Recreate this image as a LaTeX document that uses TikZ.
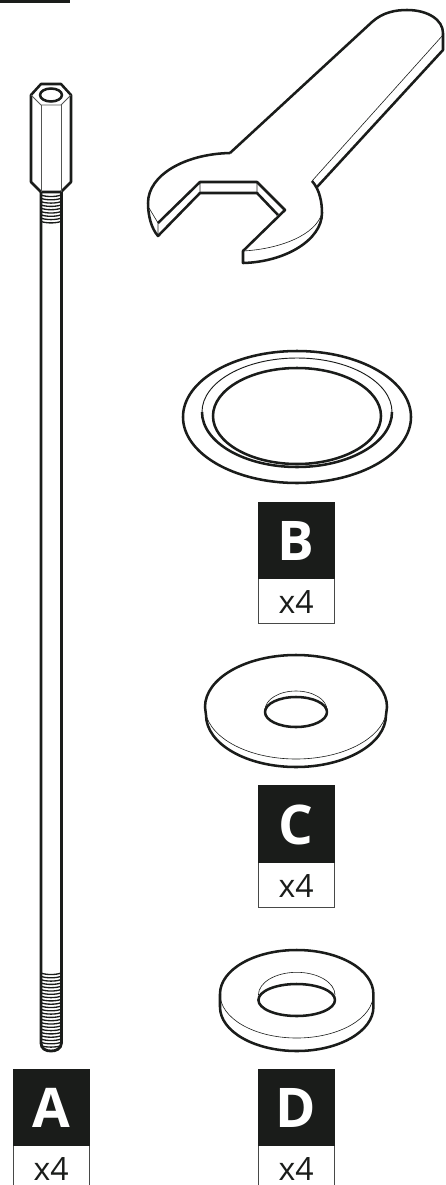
\documentclass[tikz,border=0pt]{standalone}
\usepackage{fontspec}
\setmainfont{Open Sans}
\definecolor{ink}{HTML}{1A1C1A}
\tikzset{
  thick line/.style={draw=ink,line width=1.9pt,line join=round},
  thin line/.style={draw=ink,line width=0.45pt},
  thread line/.style={draw=ink,line width=1pt},
  mid line/.style={draw=ink!75,line width=0.6pt},
  labelbox/.style={fill=ink,draw=ink,line width=0.4pt},
  countbox/.style={draw=ink!80,fill=white,line width=0.6pt},
  letter/.style={text=white,font=\fontsize{41pt}{41pt}\selectfont\bfseries,inner sep=0pt},
  count/.style={text=ink,font=\fontsize{24pt}{24pt}\selectfont,inner sep=0pt}
}
\newcommand{\partlabel}[5]{% name, x-left, y-top, split, letter
  \draw[countbox] (#2,#4) rectangle (#2+76.5,#4+45);
  \fill[labelbox] (#2,#3) rectangle (#2+76.5,#4);
  \node[letter] (#1L) at (#2+38.2,{(#3+#4)/2+1}) {#5};
  \node[count] (#1C) at (#2+38.2,#4+24) {x4};
}
\begin{document}
\begin{tikzpicture}[x=0.75pt,y=-0.75pt]
\useasboundingbox (0,0) rectangle (446,1185);
\fill[ink] (0,0) rectangle (70,3);
% bolt: rod and threads
\foreach \yy in {195,198.3,...,222}{\draw[thread line] (41,\yy) .. controls (46,\yy+2) and (56,\yy+2) .. (61,\yy);}
\foreach \yy in {973,976.3,...,1048}{\draw[thread line] (41,\yy) .. controls (46,\yy+2) and (56,\yy+2) .. (61,\yy);}
\draw[thick line,line width=2.1pt] (41,192) -- (41,1043) .. controls (41,1049) and (46,1051) .. (51,1051) .. controls (56,1051) and (61,1049) .. (61.5,1043) -- (61.5,192);
% bolt: hexagonal head
\draw[thick line,fill=white] (41,84) -- (61,84) -- (71,95) -- (71,182) -- (61,192) -- (41,192) -- (31,182) -- (31,95) -- cycle;
\draw[mid line] (31,95) -- (41,105) -- (61,105) -- (71,95);
\draw[mid line] (41,105) -- (41,192) (61,105) -- (61,192);
\draw[thick line] (51,95) ellipse [x radius=11,y radius=6.5];
% spanner
\draw[thick line] (230,153) -- (372,22) .. controls (383,12) and (396,10) .. (407,10)
  .. controls (428,10) and (443,20) .. (443,33) -- (443,50) -- (317,187);
\draw[thick line] (312,181) .. controls (320,190) and (322,203) .. (322,213)
  .. controls (322,240) and (285,262) .. (243,263) -- (243,251) -- (285,210) -- (257,182) -- (200,182) -- (158,223);
\draw[thick line] (230,153) .. controls (185,154) and (148,175) .. (148,203)
  .. controls (148,215) and (151,228) .. (158,236) -- (200,193) -- (257,193) -- (278,215);
\draw[thin line] (443,35) -- (312,181);
\draw[thin line] (322,213) .. controls (316,235) and (280,249) .. (243,251);
\draw[thin line] (149,208) -- (158,223) -- (158,236) (200,182) -- (200,193) (257,182) -- (257,193);
% washer B
\draw[thick line] (297,417) ellipse [x radius=114,y radius=66];
\draw[thick line] (297,416) ellipse [x radius=84,y radius=48];
\draw[thick line] (202,412) arc [start angle=180,end angle=0,x radius=95,y radius=55];
\draw[thin line,line width=0.7pt] (202,412) arc [start angle=180,end angle=360,x radius=95,y radius=54];
% washer C
\draw[thick line] (205,707) arc [start angle=180,end angle=360,x radius=91,y radius=52];
\draw[thick line] (205,707) -- (206,715) arc [start angle=180,end angle=0,x radius=90,y radius=52] -- (387,707);
\draw[thin line] (205,707) arc [start angle=180,end angle=0,x radius=91,y radius=52];
\draw[thick line] (296,712) ellipse [x radius=31,y radius=15];
\draw[thin line] (265,710) arc [start angle=180,end angle=360,x radius=31,y radius=19];
% washer D
\draw[thick line] (220,994) arc [start angle=180,end angle=360,x radius=76.7,y radius=44];
\draw[thick line] (220,994) -- (220,1007) arc [start angle=180,end angle=0,x radius=76.7,y radius=44] -- (373.4,994);
\draw[thin line] (220,994) arc [start angle=180,end angle=0,x radius=76.7,y radius=44];
\draw[thick line] (296.7,1000) ellipse [x radius=38.3,y radius=16];
\draw[thin line] (258.4,995) arc [start angle=180,end angle=360,x radius=38.3,y radius=22.7];
% labels
\partlabel{a}{13}{1069}{1145}{A}
\partlabel{b}{258}{502}{578}{B}
\partlabel{c}{258}{785}{862}{C}
\partlabel{d}{258}{1069}{1145}{D}
\end{tikzpicture}
\end{document}
